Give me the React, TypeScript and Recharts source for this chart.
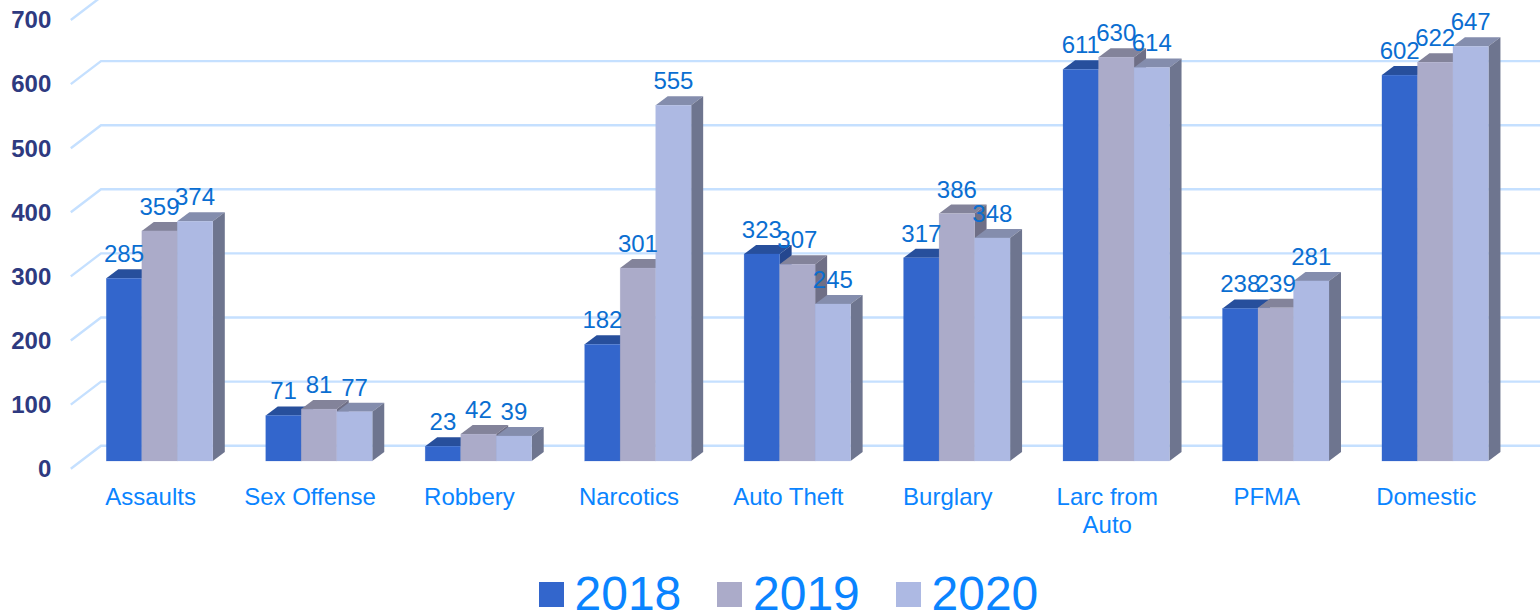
import React from 'react';
import { BarChart, Bar, XAxis, YAxis, CartesianGrid, Legend, LabelList } from 'recharts';

const categories = ['Assaults', 'Sex Offense', 'Robbery', 'Narcotics', 'Auto Theft', 'Burglary', 'Larc from Auto', 'PFMA', 'Domestic'];
const values2018 = [285, 71, 23, 182, 323, 317, 611, 238, 602];
const values2019 = [359, 81, 42, 301, 307, 386, 630, 239, 622];
const values2020 = [374, 77, 39, 555, 245, 348, 614, 281, 647];
const yTicks = [0, 100, 200, 300, 400, 500, 600, 700];

const data = categories.map((name, i) => ({
  name,
  y2018: values2018[i],
  y2019: values2019[i],
  y2020: values2020[i],
}));

const FONT = '"Liberation Sans", Arial, sans-serif';
const DEPTH_X = 12;
const DEPTH_Y = 9;

const shades: Record<string, { top: string; side: string }> = {
  '#3366CC': { top: '#274F9C', side: '#24478F' },
  '#ABABC9': { top: '#83839A', side: '#6F6F86' },
  '#ADB9E3': { top: '#848DAD', side: '#6E758F' },
};

const Cuboid = (props: any) => {
  const { x, y, width, height, fill } = props;
  const s = shades[fill];
  const r = x + width;
  const b = y + height;
  return (
    <g>
      <polygon points={`${x},${y} ${x + DEPTH_X},${y - DEPTH_Y} ${r + DEPTH_X},${y - DEPTH_Y} ${r},${y}`} fill={s.top} />
      <polygon points={`${r},${y} ${r + DEPTH_X},${y - DEPTH_Y} ${r + DEPTH_X},${b - DEPTH_Y} ${r},${b}`} fill={s.side} />
      <rect x={x} y={y} width={width} height={height} fill={fill} stroke={fill} strokeOpacity={0.35} strokeWidth={0.6} />
    </g>
  );
};

// grid line with the slanted bit on the left wall
const GridLine = (props: any) => {
  const { x1, x2, y1, index } = props;
  const points = `${x1 - 9.5},${y1 + 7.7} ${x1 + 20.7},${y1 - 15.3} ${x2 + 25},${y1 - 15.3}`;
  return <polyline key={index} points={points} fill="none" stroke="#C5E0FF" strokeWidth={2.4} />;
};

const YTick = (props: any) => {
  const { x, y, payload } = props;
  return (
    <text x={x} y={y + 16} textAnchor="end" fontFamily={FONT} fontSize={24} fontWeight={700} fill="#2E3A80">
      {payload.value}
    </text>
  );
};

const XTick = (props: any) => {
  const { x, y, payload } = props;
  const words: string[] = payload.value.split(' ');
  const lines = payload.value.length > 12 ? [words.slice(0, -1).join(' '), words[words.length - 1]] : [payload.value];
  return (
    <text textAnchor="middle" fontFamily={FONT} fontSize={24} fill="#0A84FF">
      {lines.map((line, i) => (
        <tspan key={line} x={x - 9.5} y={y + 36 + i * 28}>
          {line}
        </tspan>
      ))}
    </text>
  );
};

const ValueLabel = (props: any) => {
  const { x, y, width, value } = props;
  return (
    <text x={x + width / 2} y={y - 16} textAnchor="middle" fontFamily={FONT} fontSize={24} fill="#0A6ED1">
      {value}
    </text>
  );
};

const LegendContent = (props: any) => (
  <div style={{ display: 'flex', paddingLeft: 538.5, fontFamily: FONT }}>
    {props.payload.map((entry: any) => (
      <div key={entry.value} style={{ display: 'flex', alignItems: 'center', width: 178.5 }}>
        <span style={{ width: 25, height: 25, background: entry.color, marginRight: 11 }} />
        <span style={{ fontSize: 48, lineHeight: '42px', color: '#0A84FF' }}>{entry.value}</span>
      </div>
    ))}
  </div>
);

export default function App() {
  return (
    <div style={{ position: 'absolute', left: 0, top: 0, width: 1540, height: 615, overflow: 'hidden' }}>
      <BarChart
        width={1540}
        height={615}
        data={data}
        barSize={35.5}
        barGap={0}
        margin={{ top: 12.3, right: 24.6, left: 0, bottom: 52 }}
      >
        <CartesianGrid vertical={false} horizontal={GridLine} />
        <XAxis dataKey="name" axisLine={false} tickLine={false} height={60} interval={0} tick={XTick} />
        <YAxis
          width={80.3}
          domain={[0, 700]}
          ticks={yTicks}
          axisLine={false}
          tickLine={false}
          tickMargin={23}
          tick={YTick}
        />
        <Legend
          verticalAlign="bottom"
          height={42}
          content={LegendContent}
          wrapperStyle={{ left: 0, width: 1540, bottom: 0 }}
        />
        <Bar dataKey="y2018" name="2018" fill="#3366CC" shape={Cuboid} isAnimationActive={false}>
          <LabelList dataKey="y2018" content={ValueLabel} />
        </Bar>
        <Bar dataKey="y2019" name="2019" fill="#ABABC9" shape={Cuboid} isAnimationActive={false}>
          <LabelList dataKey="y2019" content={ValueLabel} />
        </Bar>
        <Bar dataKey="y2020" name="2020" fill="#ADB9E3" shape={Cuboid} isAnimationActive={false}>
          <LabelList dataKey="y2020" content={ValueLabel} />
        </Bar>
      </BarChart>
    </div>
  );
}
